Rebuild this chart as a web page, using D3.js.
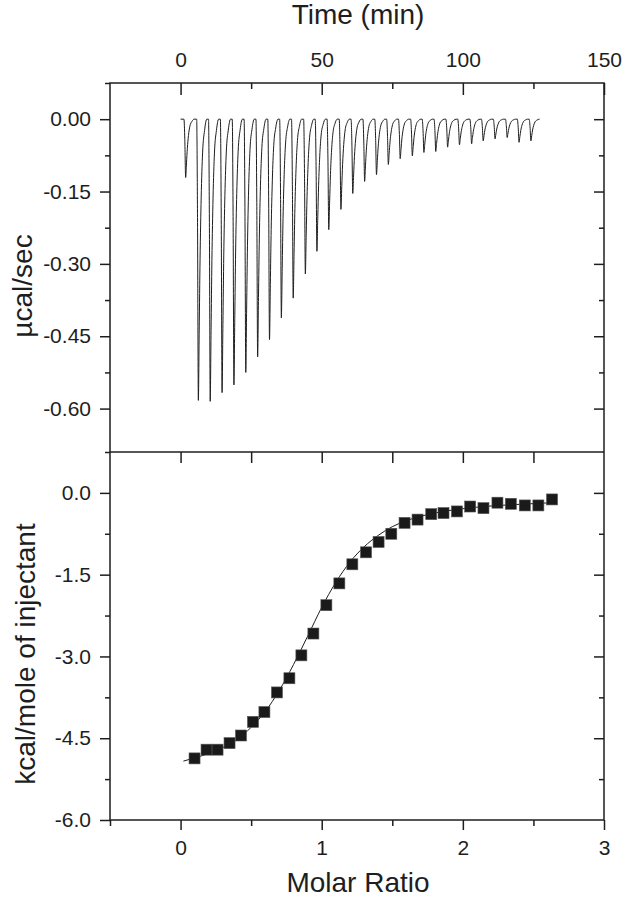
<!DOCTYPE html>
<html>
<head>
<meta charset="utf-8">
<script src="https://d3js.org/d3.v7.min.js"></script>
<style>
body { margin: 0; background: #fff; }
svg { font-family: "Liberation Sans", Arial, sans-serif; }
</style>
</head>
<body>
<script>
// raw thermogram: injection times (min) and peak heights (ucal/sec)
var injTime = [1.8, 6.3, 10.5, 14.7, 18.9, 23.1, 27.3, 31.5, 35.7, 39.9, 44.2, 48.3, 52.5, 56.8, 61.0,
	65.2, 69.4, 73.6, 77.8, 82.1, 86.2, 90.4, 94.6, 98.8, 103.1, 107.2, 111.4, 115.7, 119.9, 124.1];
var injPeak = [-0.121, -0.583, -0.585, -0.567, -0.551, -0.525, -0.493, -0.457, -0.412, -0.371, -0.321,
	-0.274, -0.229, -0.187, -0.154, -0.129, -0.115, -0.094, -0.082, -0.076, -0.069, -0.067, -0.058,
	-0.053, -0.051, -0.045, -0.041, -0.038, -0.048, -0.045];
var runStart = 0, runEnd = 127;
// profile of one injection peak (min from tip, fraction of peak)
var spikeDt = [-0.6, -0.3, 0, 0.3, 0.6, 1.0, 1.5, 2.2, 3.0];
var spikeFrac = [0, 0.35, 1, 0.75, 0.5, 0.28, 0.12, 0.04, 0];

// integrated heats
var molarRatio = [0.099, 0.184, 0.262, 0.347, 0.428, 0.513, 0.594, 0.683, 0.771, 0.856, 0.941, 1.033,
	1.125, 1.217, 1.314, 1.403, 1.493, 1.587, 1.679, 1.776, 1.863, 1.958, 2.052, 2.146, 2.245, 2.340,
	2.439, 2.535, 2.632];
var heat = [-4.87, -4.71, -4.71, -4.59, -4.45, -4.20, -4.02, -3.66, -3.40, -2.98, -2.58, -2.06, -1.66,
	-1.31, -1.09, -0.90, -0.75, -0.55, -0.49, -0.39, -0.37, -0.34, -0.25, -0.28, -0.18, -0.20, -0.23,
	-0.23, -0.12];
// fitted curve
var fitRatio = [0.02, 0.1, 0.2, 0.3, 0.4, 0.5, 0.6, 0.7, 0.8, 0.9, 1.0, 1.1, 1.2, 1.3, 1.4, 1.5, 1.6,
	1.8, 2.0, 2.2, 2.4, 2.63];
var fitHeat = [-4.92, -4.86, -4.78, -4.67, -4.52, -4.30, -4.01, -3.62, -3.15, -2.63, -2.10, -1.64,
	-1.27, -0.99, -0.78, -0.62, -0.51, -0.37, -0.29, -0.24, -0.21, -0.18];

// ticks
var timeMajor = [0, 50, 100, 150], timeMinor = [25, 75, 125];
var powMajor = [0, -0.15, -0.30, -0.45, -0.60], powMinor = [0.075, -0.075, -0.225, -0.375, -0.525];
var ratioMajor = [0, 1, 2, 3], ratioMinor = [-0.5, 0.5, 1.5, 2.5], ratioTop = [0, 0.5, 1, 1.5, 2, 2.5];
var heatMajor = [0, -1.5, -3.0, -4.5, -6.0], heatMinor = [0.75, -0.75, -2.25, -3.75, -5.25];

var w = 629, h = 900;
var x0 = 110, x1 = 604;
var yTop = 83, yMid = 452, yBot = 820;
var ink = "#1e1e1e";

var svg = d3.select("body")
	.append("svg")
	.attr("width", w)
	.attr("height", h);

var xTime = d3.scaleLinear().domain([-25, 150]).range([x0, x1]);
var yPow = d3.scaleLinear().domain([-0.69, 0.075]).range([yMid, yTop]);
var xRatio = d3.scaleLinear().domain([-0.5, 3]).range([x0, x1]);
var yHeat = d3.scaleLinear().domain([-6, 0.75]).range([yBot, yMid]);

function drawAxis(axis, tx, ty) {
	var g = svg.append("g")
		.attr("transform", "translate(" + tx + "," + ty + ")")
		.call(axis);
	g.select(".domain").remove();
	g.selectAll("line").attr("stroke", ink).attr("stroke-width", 1.5);
	g.selectAll("text").attr("fill", ink).attr("font-size", 21)
		.attr("font-family", "'Liberation Sans', Arial, sans-serif");
	return g;
}

// top panel axes
drawAxis(d3.axisTop(xTime).tickValues(timeMajor).tickSize(-12).tickPadding(16).tickSizeOuter(0), 0, yTop);
drawAxis(d3.axisTop(xTime).tickValues(timeMinor).tickSize(-6).tickFormat("").tickSizeOuter(0), 0, yTop);
drawAxis(d3.axisLeft(yPow).tickValues(powMajor).tickSize(10).tickPadding(9).tickSizeOuter(0)
	.tickFormat(function(d) { return d.toFixed(2); }), x0, 0);
drawAxis(d3.axisLeft(yPow).tickValues(powMinor).tickSize(5).tickFormat("").tickSizeOuter(0), x0, 0);
drawAxis(d3.axisRight(yPow).tickValues(powMajor).tickSize(-10).tickFormat("").tickSizeOuter(0), x1, 0);
drawAxis(d3.axisRight(yPow).tickValues(powMinor.slice(1)).tickSize(-5).tickFormat("").tickSizeOuter(0), x1, 0);

// bottom panel axes
drawAxis(d3.axisTop(xRatio).tickValues(ratioTop).tickSize(-11).tickFormat("").tickSizeOuter(0), 0, yMid);
drawAxis(d3.axisBottom(xRatio).tickValues(ratioMajor).tickSize(10).tickPadding(10).tickSizeOuter(0)
	.tickFormat(function(d) { return d; }), 0, yBot);
drawAxis(d3.axisBottom(xRatio).tickValues(ratioMinor).tickSize(6).tickFormat("").tickSizeOuter(0), 0, yBot);
drawAxis(d3.axisLeft(yHeat).tickValues(heatMajor).tickSize(10).tickPadding(9).tickSizeOuter(0)
	.tickFormat(function(d) { return d.toFixed(1); }), x0, 0);
drawAxis(d3.axisLeft(yHeat).tickValues(heatMinor).tickSize(5).tickFormat("").tickSizeOuter(0), x0, 0);
drawAxis(d3.axisRight(yHeat).tickValues(heatMajor.slice(0, 4)).tickSize(-10).tickFormat("").tickSizeOuter(0), x1, 0);
drawAxis(d3.axisRight(yHeat).tickValues(heatMinor.slice(1)).tickSize(-5).tickFormat("").tickSizeOuter(0), x1, 0);

// frames
svg.append("rect")
	.attr("x", x0).attr("y", yTop)
	.attr("width", x1 - x0).attr("height", yBot - yTop)
	.attr("fill", "none").attr("stroke", ink).attr("stroke-width", 1.5);
svg.append("line")
	.attr("x1", x0).attr("x2", x1).attr("y1", yMid).attr("y2", yMid)
	.attr("stroke", ink).attr("stroke-width", 1.5);

// thermogram trace
var pts = [[runStart, 0]];
injTime.forEach(function(t, i) {
	spikeDt.forEach(function(dt, j) {
		pts.push([t + dt, injPeak[i] * spikeFrac[j]]);
	});
});
pts.push([runEnd, 0]);
svg.append("path")
	.datum(pts)
	.attr("fill", "none")
	.attr("stroke", ink)
	.attr("stroke-width", 1)
	.attr("d", d3.line()
		.x(function(d) { return xTime(d[0]); })
		.y(function(d) { return yPow(d[1]); })
		.curve(d3.curveMonotoneX));

// fit line
svg.append("path")
	.datum(fitRatio.map(function(r, i) { return [r, fitHeat[i]]; }))
	.attr("fill", "none")
	.attr("stroke", ink)
	.attr("stroke-width", 1)
	.attr("d", d3.line()
		.x(function(d) { return xRatio(d[0]); })
		.y(function(d) { return yHeat(d[1]); })
		.curve(d3.curveMonotoneX));

// squares
var sq = 11;
svg.selectAll("rect.pt")
	.data(molarRatio)
	.enter().append("rect")
	.attr("class", "pt")
	.attr("x", function(d) { return xRatio(d) - sq / 2; })
	.attr("y", function(d, i) { return yHeat(heat[i]) - sq / 2; })
	.attr("width", sq).attr("height", sq)
	.attr("fill", "#1a1a1a")
	.attr("stroke", "#555").attr("stroke-width", 0.6);

// titles
svg.append("text")
	.text("Time (min)")
	.attr("x", 358).attr("y", 24)
	.attr("text-anchor", "middle").attr("font-size", 28).attr("fill", ink);
svg.append("text")
	.text("Molar Ratio")
	.attr("x", 358).attr("y", 892)
	.attr("text-anchor", "middle").attr("font-size", 28).attr("fill", ink);
svg.append("text")
	.text("\u00b5cal/sec")
	.attr("transform", "translate(32,286) rotate(-90)")
	.attr("text-anchor", "middle").attr("font-size", 28).attr("fill", ink);
svg.append("text")
	.text("kcal/mole of injectant")
	.attr("transform", "translate(35,654) rotate(-90)")
	.attr("text-anchor", "middle").attr("font-size", 28).attr("fill", ink);
</script>
</body>
</html>
